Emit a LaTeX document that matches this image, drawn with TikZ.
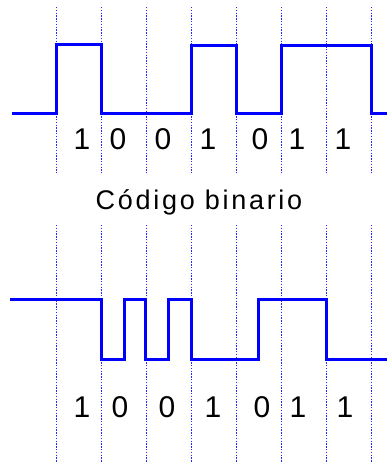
\documentclass[tikz,border=0pt]{standalone}
\usepackage{fontspec}
\setmainfont{Liberation Sans}
\begin{document}
\begin{tikzpicture}[x=1pt,y=-1pt,
  grid/.style={draw=blue!85, dash pattern=on 1.4pt off 1.4pt, line width=1pt},
  wave/.style={draw=blue, line width=3pt, line join=miter},
  digit/.style={font=\fontsize{30}{34}\selectfont, inner sep=0pt},
  title/.style={font=\fontsize{27}{31}\selectfont\addfontfeature{LetterSpace=10}, inner sep=0pt}]
\useasboundingbox (0,0) rectangle (387,463);
% dotted grid lines
\foreach \i in {0,...,7}{
  \coordinate (ta\i) at ({56.7+45*\i},7);
  \coordinate (tb\i) at ({56.7+45*\i},173);
  \coordinate (ba\i) at ({56.7+45*\i},225);
  \coordinate (bb\i) at ({56.7+45*\i},463);
  \draw[grid] (ta\i) -- (tb\i);
  \draw[grid] (ba\i) -- (bb\i);
}
% top waveform (NRZ)
\coordinate (w0) at (12,113);
\coordinate (w1) at (387,113);
\draw[wave] (w0) -- (56.5,113) -- (56.5,44.5) -- (101,44.5) -- (101,113)
  -- (191.5,113) -- (191.5,45) -- (236.5,45) -- (236.5,113) -- (281.5,113)
  -- (281.5,45) -- (371.5,45) -- (371.5,113) -- (w1);
% bottom waveform
\coordinate (v0) at (10,299);
\coordinate (v1) at (387,359);
\draw[wave] (v0) -- (101,299) -- (101,359) -- (124,359) -- (124,299) -- (145.5,299)
  -- (145.5,359) -- (168,359) -- (168,299) -- (191,299) -- (191,359)
  -- (258,359) -- (258,299) -- (326,299) -- (326,359) -- (v1);
% top digits
\node[digit] (d1) at (82,139) {1};
\node[digit] (d2) at (118,139) {0};
\node[digit] (d3) at (163,139) {0};
\node[digit] (d4) at (208,139) {1};
\node[digit] (d5) at (260,139) {0};
\node[digit] (d6) at (297,139) {1};
\node[digit] (d7) at (343,139) {1};
% title
\node[title] (t) at (199,202) {Código binario};
% bottom digits
\node[digit] (e1) at (82,407) {1};
\node[digit] (e2) at (120,407) {0};
\node[digit] (e3) at (167,407) {0};
\node[digit] (e4) at (213,407) {1};
\node[digit] (e5) at (262,407) {0};
\node[digit] (e6) at (298,407) {1};
\node[digit] (e7) at (345,407) {1};
\end{tikzpicture}
\end{document}
